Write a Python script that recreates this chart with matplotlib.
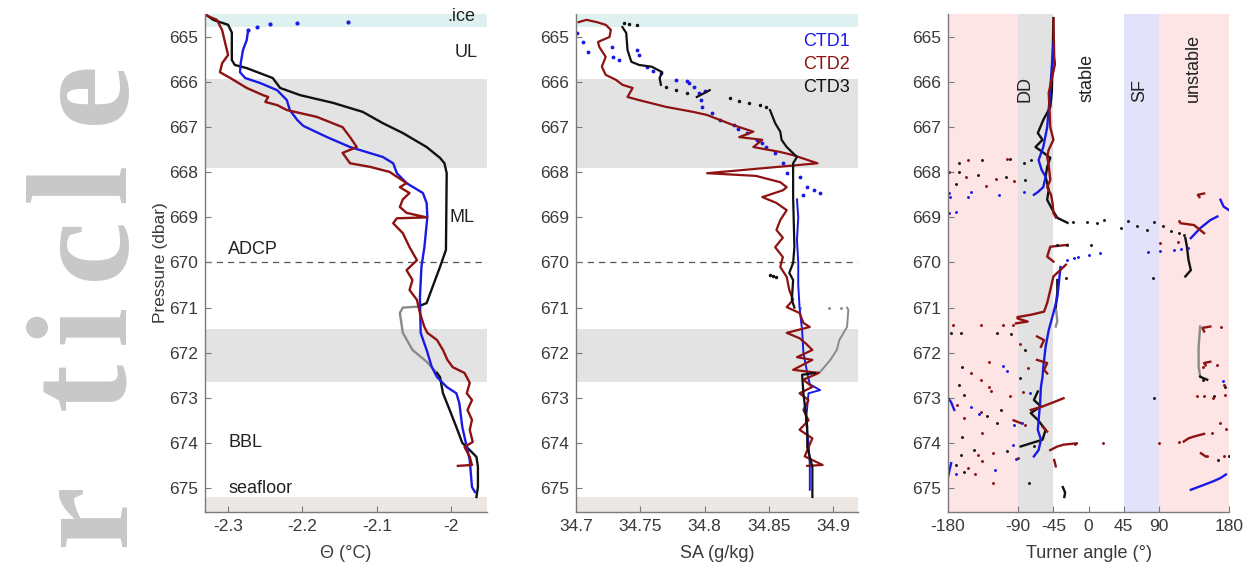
import numpy as np
import matplotlib
matplotlib.use("Agg")
from matplotlib import pyplot as plt

plt.rcParams['font.family'] = ['Liberation Sans', 'DejaVu Sans']
plt.rcParams['axes.unicode_minus'] = False

# colours
c1 = '#1a1ae6'   # CTD1
c2 = '#8e1212'   # CTD2
c3 = '#111111'   # CTD3
cg = '#8a8a8a'   # CTD3 second segment

# ---------------- panel 1: conservative temperature ----------------
p1_ctd1_dots = [664.67, 664.69, 664.71, 664.78, 664.85]
t1_ctd1_dots = [-2.139, -2.207, -2.244, -2.261, -2.273]
p1_ctd1 = [664.85, 665.07, 665.29, 665.58, 665.78, 665.91, 666.02, 666.18, 666.40, 666.62,
           666.84, 666.97, 667.22, 667.44, 667.66, 667.80, 668.02, 668.24, 668.46, 668.68,
           668.99, 669.66, 670.10, 670.77, 671.56, 671.94, 672.32, 672.54, 672.76, 672.90,
           673.12, 673.65, 674.09, 674.38, 674.98, 675.09]
t1_ctd1 = [-2.273, -2.275, -2.280, -2.283, -2.284, -2.277, -2.257, -2.234, -2.221, -2.217,
           -2.207, -2.199, -2.167, -2.136, -2.092, -2.078, -2.073, -2.060, -2.038, -2.033,
           -2.032, -2.036, -2.040, -2.042, -2.041, -2.033, -2.026, -2.019, -2.006, -1.993,
           -1.989, -1.985, -1.979, -1.975, -1.972, -1.968]

p1_ctd2 = [664.51, 664.62, 664.85, 665.13, 665.40, 665.58, 665.78, 665.91, 666.13, 666.29,
           666.33, 666.44, 666.51, 666.62, 666.77, 667.00, 667.22, 667.44, 667.57, 667.80,
           667.88, 667.99, 668.24, 668.33, 668.46, 668.60, 668.77, 668.90, 669.00, 669.02,
           669.13, 669.35, 669.66, 669.95, 670.17, 670.39, 670.61, 670.83, 671.12, 671.43,
           671.56, 671.72, 671.94, 672.16, 672.32, 672.45, 672.67, 672.90, 673.05, 673.27,
           673.49, 673.71, 673.98, 674.09, 674.31, 674.49, 674.51]
t1_ctd2 = [-2.331, -2.315, -2.308, -2.304, -2.300, -2.308, -2.311, -2.297, -2.275, -2.253,
           -2.246, -2.250, -2.234, -2.221, -2.181, -2.146, -2.136, -2.127, -2.146, -2.136,
           -2.109, -2.083, -2.060, -2.069, -2.056, -2.065, -2.069, -2.060, -2.033, -2.073,
           -2.078, -2.065, -2.056, -2.046, -2.060, -2.052, -2.056, -2.046, -2.042, -2.036,
           -2.032, -2.019, -2.011, -2.005, -1.998, -1.982, -1.975, -1.979, -1.972, -1.978,
           -1.972, -1.975, -1.971, -1.982, -1.975, -1.972, -1.991]

p1_ctd3 = [664.49, 664.62, 664.73, 664.90, 665.51, 665.62, 665.69, 665.91, 666.13, 666.29,
           666.46, 666.66, 666.91, 667.13, 667.44, 667.68, 667.80, 668.02, 669.72, 670.10,
           670.54, 670.90, 670.96, np.nan, 672.45, 672.54, 672.90, 673.27, 673.65, 674.00,
           674.16, 674.31, 674.53, 674.98, 675.20]
t1_ctd3 = [-2.331, -2.320, -2.300, -2.295, -2.295, -2.291, -2.275, -2.240, -2.230, -2.203,
           -2.159, -2.119, -2.092, -2.065, -2.033, -2.015, -2.009, -2.006, -2.007, -2.015,
           -2.025, -2.033, -2.042, np.nan, -2.019, -2.015, -2.011, -2.002, -1.993, -1.985,
           -1.975, -1.966, -1.964, -1.964, -1.966]
p1_ctd3b = [670.98, 671.00, 671.12, 671.56, 671.94, 672.20, 672.45]
t1_ctd3b = [-2.045, -2.065, -2.069, -2.065, -2.052, -2.033, -2.019]

# ---------------- panel 2: absolute salinity ----------------
p2_ctd1_dots = [664.91, 665.11, 665.33, 665.22, 665.44, 665.51, 665.29, 665.40, 665.66, 665.75,
                665.80, 665.95, 666.02, 666.24, 666.40, 666.55, 666.69, 666.84, 666.95, 667.13,
                667.28, 667.44, 667.57, 667.80, 668.02, 668.10, 668.33, 668.40, 668.50, 668.45,
                666.10, 666.20, 665.98, 667.05, 667.35]
s2_ctd1_dots = [34.701, 34.705, 34.709, 34.728, 34.729, 34.733, 34.747, 34.749, 34.755, 34.760,
                34.766, 34.778, 34.788, 34.796, 34.797, 34.798, 34.806, 34.812, 34.823, 34.833,
                34.841, 34.848, 34.855, 34.861, 34.864, 34.874, 34.880, 34.885, 34.877, 34.890,
                34.792, 34.800, 34.786, 34.826, 34.845]
p2_ctd1 = [668.60, 669.00, 669.50, 670.00, 670.50, 671.00, 671.50, 672.00, 672.45, 672.70,
           672.83, 672.90, 673.50, 674.00, 674.50, 675.04]
s2_ctd1 = [34.872, 34.873, 34.872, 34.873, 34.873, 34.874, 34.876, 34.877, 34.880, 34.882,
           34.890, 34.881, 34.879, 34.881, 34.882, 34.882]

p2_ctd2 = [664.67, 664.62, 664.67, 664.73, 664.84, 665.00, 665.11, 665.22, 665.44, 665.66,
           665.84, 665.95, 666.06, 666.13, 666.33, 666.40, 666.55, 666.66, 666.73, 666.84,
           666.95, 667.10, 667.22, 667.28, 667.44, 667.55, 667.62, 667.80, 667.85, 668.02,
           668.08, 668.22, 668.33, 668.40, 668.55, 668.68, 668.84, 669.06, 669.28, 669.45,
           669.66, 669.88, 670.10, 670.32, 670.61, 670.83, 670.99, 671.12, 671.34, 671.43,
           671.56, 671.68, 671.80, 671.94, 672.10, 672.16, 672.38, 672.45, 672.60, 672.76,
           672.90, 673.05, 673.27, 673.50, 673.71, 673.90, 674.10, 674.30, 674.49, 674.51]
s2_ctd2 = [34.702, 34.708, 34.716, 34.723, 34.727, 34.726, 34.717, 34.718, 34.723, 34.720,
           34.723, 34.731, 34.736, 34.744, 34.740, 34.749, 34.770, 34.791, 34.802, 34.812,
           34.822, 34.838, 34.827, 34.845, 34.838, 34.859, 34.869, 34.888, 34.869, 34.802,
           34.840, 34.859, 34.864, 34.861, 34.845, 34.856, 34.864, 34.859, 34.856, 34.861,
           34.855, 34.861, 34.859, 34.864, 34.866, 34.869, 34.864, 34.874, 34.877, 34.882,
           34.864, 34.874, 34.879, 34.884, 34.872, 34.884, 34.869, 34.889, 34.877, 34.884,
           34.874, 34.881, 34.877, 34.881, 34.874, 34.884, 34.881, 34.878, 34.892, 34.880]

p2_ctd3 = [664.78, 664.91, 665.29, 665.55, 665.62, 665.66, 665.78, 665.91, 666.06, np.nan,
           666.33, 666.18, np.nan, 666.62, 666.91, 667.10, 667.28, 667.44, 667.66, 667.80,
           668.55, 669.66, 670.01, 670.23, 670.39, 670.83, 671.00, np.nan, 672.45, 672.49,
           672.90, 673.65, 674.09, 674.53, 675.20]
s2_ctd3 = [34.736, 34.739, 34.740, 34.743, 34.749, 34.759, 34.767, 34.765, 34.766, np.nan,
           34.794, 34.804, np.nan, 34.851, 34.855, 34.859, 34.860, 34.864, 34.872, 34.869,
           34.869, 34.870, 34.869, 34.866, 34.869, 34.868, 34.870, np.nan, 34.886, 34.876,
           34.877, 34.880, 34.880, 34.884, 34.884]
p2_ctd3_dots = [664.70, 664.72, 664.74, 666.10, 666.18, 666.25, 666.36, 666.41, 666.46, 666.50,
                666.55, 670.27, 670.30, 670.33]
s2_ctd3_dots = [34.737, 34.741, 34.747, 34.770, 34.778, 34.786, 34.820, 34.827, 34.835, 34.843,
                34.848, 34.851, 34.853, 34.856]
p2_ctd3b = [671.00, 671.05, 671.43, 671.72, 671.94, 672.16, 672.43, 672.45]
s2_ctd3b = [34.911, 34.912, 34.911, 34.905, 34.903, 34.898, 34.890, 34.886]
p2_ctd3b_dots = [671.00, 671.00, 671.01]
s2_ctd3b_dots = [34.874, 34.897, 34.906]

# ---------------- panel 3: Turner angle ----------------
p3_ctd1_lines = [
    [665.13, 666.40, 667.00, 667.44, 667.73, 667.95, 668.10, 668.33, 668.44, 668.50],
    [670.10, 670.45, 670.77, 671.12, 671.50, 671.87, 672.32, 672.54, 672.76, 673.10, 673.71,
     673.93, 674.16, 674.30],
    [669.46, 669.24, 669.06, 668.98],
    [668.61, 668.76, 668.84],
    [675.04, 674.95, 674.85, 674.78, 674.70],
    [673.00, 673.10, 673.27],
    [674.45, 674.60, 674.76],
]
tu3_ctd1_lines = [
    [-45, -50, -53, -58, -64, -60, -55, -58, -65, -70],
    [-36, -38, -40, -45, -51, -55, -58, -59, -61, -62, -65, -61, -64, -70],
    [131, 143, 156, 165],
    [169, 173, 180],
    [131, 145, 160, 169, 176],
    [-180, -176, -172],
    [-176, -178, -180],
]
p3_ctd1_dots = [668.45, 668.55, 668.88, 668.90, 668.44, 668.55, 668.50, 668.44, 669.94, 669.90,
                669.87, 669.83, 669.79, 669.77, 669.74, 669.72, 669.70, 669.68, 673.20, 673.35,
                672.30, 672.40, 673.60, 674.35, 674.60, 672.90, 673.55, 674.05, 672.62, 674.68]
tu3_ctd1_dots = [-179, -177, -170, -179, -151, -155, -115, -83, -27, -19,
                 -13, 0, 15, 76, 92, 109, 118, 127, -150, -140,
                 -110, -105, -95, -93, -120, -75, -85, -97, 172, -170]

p3_ctd2_lines = [
    [664.60, 665.44, 665.60, 666.00, 666.24, 666.60, 667.00, 667.28, 667.50, 667.65, 667.85,
     668.17, 668.33, 668.50, 668.70, 668.90, 669.00],
    [669.61, 669.65, 669.87, 669.98],
    [670.05, 670.31, 670.61, 670.90, 671.09, 671.16, 671.21, 671.24, 671.31, 671.35],
    [671.64, 671.72, 671.87],
    [672.16, 672.23, 672.38, 672.46],
    [673.27, 673.20, 673.10, 673.01],
    [673.64, 673.75],
    [674.16, 674.08, 674.04, 674.01],
    [674.38, 674.52],
    [673.97, 673.90, 673.86, 673.80],
    [669.13, 669.17, 669.35],
    [668.47, 668.50, 668.55],
    [671.42, 671.45, 671.53],
    [672.20, 672.23, 672.28],
    [674.23, 674.30],
    [673.50, 673.56],
]
tu3_ctd2_lines = [
    [-45, -44, -43, -48, -51, -50, -49, -45, -51, -53, -51,
     -49, -53, -48, -46, -45, -42],
    [-27, -49, -53, -45],
    [-29, -45, -49, -53, -57, -74, -91, -91, -78, -93],
    [-66, -57, -61],
    [-66, -53, -57, -53],
    [-74, -60, -45, -32],
    [-59, -53],
    [-49, -40, -32, -15],
    [-44, -42],
    [122, 128, 135, 148],
    [118, 135, 148],
    [148, 140, 142],
    [156, 146, 148],
    [156, 148, 150],
    [144, 150],
    [-96, -87],
]
p3_ctd2_dots = [667.73, 667.70, 668.00, 668.10, 668.15, 668.20, 671.39, 671.39, 671.39, 671.39,
                672.34, 672.60, 672.75, 672.86, 673.31, 673.79, 674.27, 674.23, 674.41, 674.88,
                672.97, 673.60, 674.34, 674.01, 674.02, 674.01, 673.97, 669.57, 669.54, 669.09,
                671.43, 672.27, 672.97, 672.97, 672.94, 672.31, 672.71, 673.79, 674.30, 674.30,
                673.01, 673.55, 672.45, 673.15, 673.45, 674.55, 674.70, 672.20, 671.80, 668.30,
                672.88, 673.70]
tu3_ctd2_dots = [-154, -104, -179, -157, -119, -96, -173, -138, -110, -97,
                 -78, -138, -127, -125, -138, -136, -142, -123, -136, -123,
                 -100, -82, -91, 19, -17, 90, 116, 92, 114, 116,
                 170, 165, 139, 148, 175, 146, 173, 158, 173, 152,
                 160, 168, -150, -168, -160, -155, -145, -128, -88, -132,
                 -84, 176]

p3_ctd3_lines = [
    [664.58, 665.50, 666.20, 666.55, 666.84, 667.13, 667.28, 667.44, 667.55, 667.68, 667.88,
     668.10, 668.39, 668.61, 668.84, 669.01, 669.12],
    [669.46, 669.65, 669.94, 670.17, 670.31],
    [670.39, 670.66, 670.99],
    [672.86, 673.05, 673.19, 673.34, 673.49, 673.71, 673.93, 674.01, 674.08],
    [674.98, 675.10, 675.20],
    [672.53, 672.55, 672.60],
]
tu3_ctd3_lines = [
    [-45, -46, -47, -49, -58, -65, -59, -68, -59, -49, -53,
     -55, -51, -53, -46, -40, -27],
    [124, 126, 128, 131, 124],
    [-40, -40, -42],
    [-65, -70, -61, -74, -65, -55, -59, -74, -87],
    [-33, -30, -31],
    [143, 145, 152],
]
p3_ctd3b_lines = [[670.99, 671.30, 671.42], [671.42, 671.87, 672.31, 672.53]]
tu3_ctd3b_lines = [[-42, -40, -42], [143, 141, 141, 143]]
p3_ctd3_dots = [667.80, 667.73, 667.80, 667.73, 667.70, 668.00, 668.05, 668.10, 668.18, 671.56,
                671.56, 671.56, 671.58, 669.10, 669.10, 669.12, 669.06, 669.24, 669.09, 669.20,
                669.28, 669.10, 669.20, 669.30, 669.35, 669.40, 669.61, 669.61, 669.61, 670.34,
                670.34, 672.31, 672.71, 672.94, 672.57, 673.27, 673.56, 673.86, 674.16, 674.19,
                674.27, 674.08, 674.90, 673.01, 672.97, 672.75, 674.30, 674.38, 672.60, 674.50,
                674.65, 673.40, 668.25, 671.95]
tu3_ctd3_dots = [-166, -136, -83, -74, -100, -166, -142, -106, -81, -176,
                 -163, -117, -99, -20, -2, 11, 20, 41, 50, 62,
                 75, 84, 96, 105, 116, 122, -40, -27, 3, 83,
                 -29, -162, -166, -160, -88, -112, -117, -162, -147, -104,
                 -164, -70, -76, 84, 161, 175, 180, 166, 147, -170,
                 -160, -130, -170, -82]

# ---------------- figure ----------------
fig = plt.figure(figsize=(12.58, 5.83), dpi=100)

# faint watermark letters on the left edge
wm_letters = ['e', 'l', 'c', 'i', 't', 'r']
wm_y = [92, 183, 248, 324, 386, 515]
for ch, yy in zip(wm_letters, wm_y):
    fig.text(124 / 1258, 1 - yy / 583, ch, rotation=90, rotation_mode='anchor',
             ha='center', va='baseline', fontsize=104, fontweight='bold',
             family='Liberation Serif', color='#c8c8c8')

ylim = (675.53, 664.49)
yticks = np.arange(665, 676, 1)
bottom, height = 0.122, 0.854
ax1 = fig.add_axes([0.163, bottom, 0.224, height])
ax2 = fig.add_axes([0.458, bottom, 0.224, height])
ax3 = fig.add_axes([0.7536, bottom, 0.2234, height])


def style(ax):
    for s in ['top', 'right']:
        ax.spines[s].set_visible(False)
    for s in ['left', 'bottom']:
        ax.spines[s].set_color('#7a7a7a')
        ax.spines[s].set_linewidth(1.0)
    ax.tick_params(direction='in', length=4, width=0.8, color='#7a7a7a',
                   labelsize=12.5, labelcolor='#3a3a3a', pad=5)
    ax.set_ylim(ylim)
    ax.set_yticks(yticks)


def bands(ax):
    ax.axhspan(664.49, 664.78, color='#dff0f0', lw=0, zorder=0)
    ax.axhspan(665.93, 667.91, color='#e3e3e3', lw=0, zorder=0)
    ax.axhspan(671.47, 672.64, color='#e3e3e3', lw=0, zorder=0)
    ax.axhspan(675.20, 675.53, color='#ece7e3', lw=0, zorder=0)
    ax.axhline(670, ls=(0, (5, 4)), color='#555555', lw=0.9, zorder=1)


lw = 1.7
ms = 2.2

# panel 1
bands(ax1)
ax1.plot(t1_ctd3b, p1_ctd3b, color=cg, lw=lw)
ax1.plot(t1_ctd3, p1_ctd3, color=c3, lw=lw)
ax1.plot(t1_ctd1, p1_ctd1, color=c1, lw=lw)
ax1.plot(t1_ctd1_dots, p1_ctd1_dots, '.', color=c1, ms=4)
ax1.plot(t1_ctd2, p1_ctd2, color=c2, lw=lw)
ax1.set_xlim(-2.331, -1.952)
ax1.set_xticks([-2.3, -2.2, -2.1, -2.0])
ax1.set_xticklabels(['-2.3', '-2.2', '-2.1', '-2'])
style(ax1)
ax1.set_xlabel('Θ (°C)', fontsize=13, color='#3a3a3a', labelpad=8)
ax1.set_ylabel('Pressure (dbar)', fontsize=12.5, color='#3a3a3a', labelpad=1)
txt = dict(fontsize=13, color='#222222', va='center')
ax1.text(-1.968, 664.55, '.ice', ha='right', **txt)
ax1.text(-1.964, 665.35, 'UL', ha='right', **txt)
ax1.text(-2.002, 669.0, 'ML', ha='left', **txt)
ax1.text(-2.30, 669.72, 'ADCP', ha='left', **txt)
ax1.text(-2.30, 674.0, 'BBL', ha='left', **txt)
ax1.text(-2.30, 675.02, 'seafloor', ha='left', **txt)

# panel 2
bands(ax2)
ax2.plot(s2_ctd3b, p2_ctd3b, color=cg, lw=1.4)
ax2.plot(s2_ctd3b_dots, p2_ctd3b_dots, '.', color=cg, ms=ms)
ax2.plot(s2_ctd1_dots, p2_ctd1_dots, '.', color=c1, ms=3.5)
ax2.plot(s2_ctd1, p2_ctd1, color=c1, lw=1.4)
ax2.plot(s2_ctd2, p2_ctd2, color=c2, lw=1.6)
ax2.plot(s2_ctd3, p2_ctd3, color=c3, lw=1.6)
ax2.plot(s2_ctd3_dots, p2_ctd3_dots, '.', color=c3, ms=3)
ax2.set_xlim(34.7, 34.9195)
ax2.set_xticks([34.7, 34.75, 34.8, 34.85, 34.9])
ax2.set_xticklabels(['34.7', '34.75', '34.8', '34.85', '34.9'])
style(ax2)
ax2.set_xlabel('SA (g/kg)', fontsize=13, color='#3a3a3a', labelpad=8)
ax2.text(34.913, 665.11, 'CTD1', color=c1, ha='right', va='center', fontsize=13)
ax2.text(34.913, 665.60, 'CTD2', color=c2, ha='right', va='center', fontsize=13)
ax2.text(34.913, 666.11, 'CTD3', color=c3, ha='right', va='center', fontsize=13)

# panel 3
ax3.axvspan(-180, -90, color='#fde5e5', lw=0, zorder=0)
ax3.axvspan(-90, -45, color='#e2e2e2', lw=0, zorder=0)
ax3.axvspan(45, 90, color='#e2e2fa', lw=0, zorder=0)
ax3.axvspan(90, 180, color='#fde5e5', lw=0, zorder=0)
for tu, pp in zip(tu3_ctd3b_lines, p3_ctd3b_lines):
    ax3.plot(tu, pp, color=cg, lw=lw)
for tu, pp in zip(tu3_ctd3_lines, p3_ctd3_lines):
    ax3.plot(tu, pp, color=c3, lw=lw)
for tu, pp in zip(tu3_ctd1_lines, p3_ctd1_lines):
    ax3.plot(tu, pp, color=c1, lw=lw)
for tu, pp in zip(tu3_ctd2_lines, p3_ctd2_lines):
    ax3.plot(tu, pp, color=c2, lw=lw)
ax3.plot(tu3_ctd3_dots, p3_ctd3_dots, '.', color=c3, ms=ms)
ax3.plot(tu3_ctd2_dots, p3_ctd2_dots, '.', color=c2, ms=ms)
ax3.plot(tu3_ctd1_dots, p3_ctd1_dots, '.', color=c1, ms=ms)
ax3.set_xlim(-180, 180)
ax3.set_xticks([-180, -90, -45, 0, 45, 90, 180])
style(ax3)
ax3.set_xlabel('Turner angle (°)', fontsize=13, color='#3a3a3a', labelpad=8)
rt = dict(rotation=90, ha='center', va='bottom', fontsize=13, color='#222222')
ax3.text(-81, 666.45, 'DD', **rt)
ax3.text(-2, 666.45, 'stable', **rt)
ax3.text(66, 666.45, 'SF', **rt)
ax3.text(134, 666.45, 'unstable', **rt)

fig.savefig('out.png', dpi=100)
